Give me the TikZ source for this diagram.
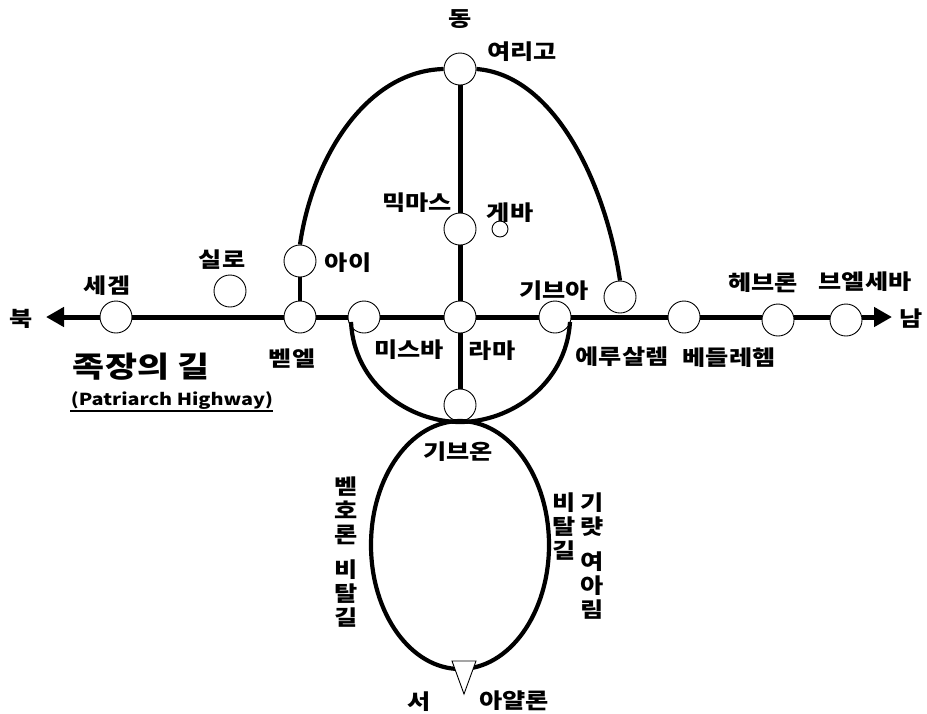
\documentclass[tikz,border=0pt]{standalone}
\usepackage{fontspec}
\setmainfont{Noto Sans CJK KR}[BoldFont={Noto Sans CJK KR Black},BoldFeatures={FakeStretch=1.2}]
\usetikzlibrary{arrows.meta,shapes.geometric}
\tikzset{
  stn/.style={circle,draw=black,fill=white,line width=0.9pt,minimum size=32pt,inner sep=0pt},
  smallstn/.style={stn,minimum size=16pt},
  road/.style={line width=5pt,draw=black},
  curve/.style={line width=4.2pt,draw=black},
  lab/.style={inner sep=0pt,yshift=-2pt,font=\fontsize{21}{24}\selectfont\bfseries,align=center},
  biglab/.style={lab,font=\fontsize{29}{33}\selectfont\bfseries},
  minilab/.style={lab,font=\fontsize{16.5}{20}\selectfont\bfseries}
}
\begin{document}
\begin{tikzpicture}[x=1pt,y=-1pt]
\useasboundingbox (0,0) rectangle (927,713);
% stations
\node[stn] (yeorigo) at (460,69) {};
\node[stn] (mikmas) at (460,229) {};
\node[smallstn] (geba) at (500,229) {};
\node[stn] (rama) at (460,317) {};
\node[stn] (gibeon) at (460,405) {};
\node[stn] (ai) at (300,261) {};
\node[stn] (bethel) at (300,317) {};
\node[stn] (shechem) at (116,317) {};
\node[stn] (shiloh) at (230,291) {};
\node[stn] (mizpah) at (364,317) {};
\node[stn] (gibeah) at (555,317) {};
\node[stn] (jerusalem) at (620,297) {};
\node[stn] (bethlehem) at (684,317) {};
\node[stn] (hebron) at (778,320) {};
\node[stn] (beersheba) at (846,320) {};
\coordinate (nend) at (46,317);
\coordinate (send) at (892,317);
\coordinate (mizpahfoot) at (351,322);
\coordinate (gibeahfoot) at (570,322);
% roads
\draw[road,-{Triangle[length=18pt,width=19pt]}] (shechem.west) -- (nend);
\draw[road] (shechem.east) -- (bethel.west);
\draw[road] (bethel.east) -- (mizpah.west);
\draw[road] (mizpah.east) -- (rama.west);
\draw[road] (rama.east) -- (gibeah.west);
\draw[road] (gibeah.east) -- (bethlehem.west);
\draw[road] (bethlehem.east) -- (hebron.west |- bethlehem.east);
\draw[road] (hebron.east |- bethlehem.east) -- (beersheba.west |- bethlehem.east);
\draw[road,-{Triangle[length=18pt,width=19pt]}] (beersheba.east |- bethlehem.east) -- (send);
\draw[road] (yeorigo.south) -- (mikmas.north);
\draw[road] (mikmas.south) -- (rama.north);
\draw[road] (rama.south) -- (gibeon.north);
\draw[curve] (ai.south) -- (bethel.north);
\draw[curve] (yeorigo.west) .. controls (365,71) and (312,160) .. (ai.north);
\draw[curve] (yeorigo.east) .. controls (555,75) and (606,185) .. (jerusalem.north);
% lower bowl and oval
\draw[curve] (mizpahfoot) .. controls (354,385) and (410,422) .. (460,422)
  .. controls (510,422) and (566,385) .. (gibeahfoot);
\node[ellipse,draw=black,line width=4.2pt,minimum width=178pt,minimum height=248pt,inner sep=0pt] (oval) at (460,545) {};
\draw[line width=0.9pt,fill=white,line join=miter] (452,661) -- (476,661) -- (464,694) -- cycle;
% labels
\node[lab] (tdong) at (460,17) {동};
\node[lab] (tjer) at (522,50) {여리고};
\node[lab] (tmik) at (417,201) {믹마스};
\node[lab] (tgeba) at (510,211) {게바};
\node[lab] (tshi) at (222,258) {실로};
\node[lab] (tai) at (348,261) {아이};
\node[lab] (tshe) at (107,284) {세겜};
\node[lab] (tbet) at (292,357) {벧엘};
\node[lab] (tmiz) at (409,348) {미스바};
\node[lab] (tram) at (492,349) {라마};
\node[lab] (tgib) at (554,289) {기브아};
\node[lab] (tyer) at (622,355) {에루살렘};
\node[lab] (tbl) at (729,356) {베들레헴};
\node[lab] (thb) at (763,281) {헤브론};
\node[lab] (tbs) at (865,280) {브엘세바};
\node[lab] (tnam) at (911,317) {남};
\node[lab] (tbuk) at (21,317) {북};
\node[biglab] (tpat) at (141,365) {족장의 길};
\node[minilab] (thigh) at (172,399) {(Patriarch Highway)};
\draw[line width=1.6pt] (70,411) -- (273,411);
\node[lab] (tgbn) at (458,450) {기브온};
\node[lab] (tbh) at (346,550) {벧\\호\\론\\[11pt]비\\탈\\길};
\node[lab] (tsl) at (564,525) {비\\탈\\길};
\node[lab] (tkj) at (592,554) {기\\럇\\[11pt]여\\아\\림};
\node[lab] (tseo) at (419,700) {서};
\node[lab] (tayl) at (514,699) {아얄론};
\end{tikzpicture}
\end{document}
